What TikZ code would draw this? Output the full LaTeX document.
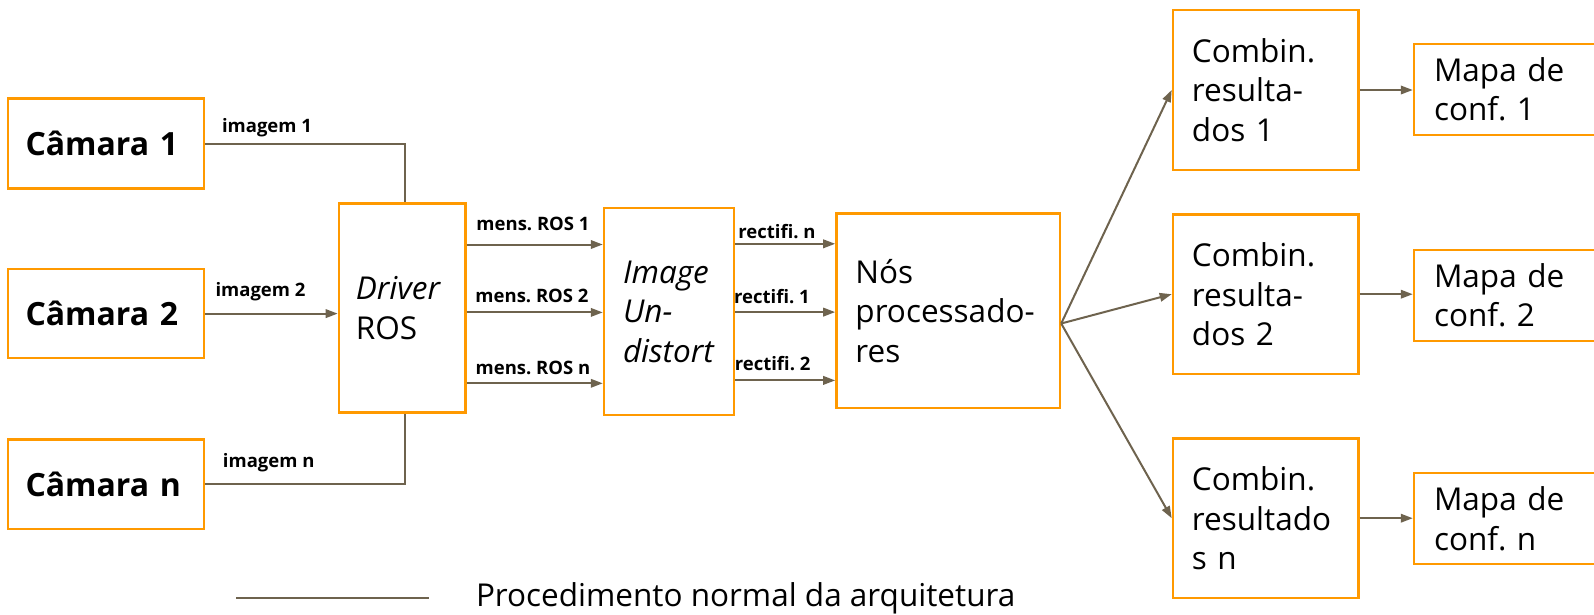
\documentclass[tikz,border=0pt]{standalone}
\usepackage{fontspec}
\setmainfont{Open Sans}
\usetikzlibrary{arrows.meta,calc}
\definecolor{boxor}{RGB}{255,153,0}
\definecolor{linec}{RGB}{110,99,78}
\frenchspacing
\tikzset{
  box/.style={draw=boxor, line width=2.5pt, inner ysep=0pt, align=left,
    font=\fontsize{31.5}{39.5}\selectfont},
  conn/.style={draw=linec, line width=2pt},
  arr/.style={conn, -{Triangle[length=12pt,width=8.5pt]}},
  lbl/.style={font=\fontsize{18.5}{22}\selectfont\bfseries, inner sep=0pt},
}
\begin{document}
\begin{tikzpicture}[x=1pt,y=-1pt]
\useasboundingbox (0,0) rectangle (1594,614);

% cameras
\node[box, inner xsep=17.5pt, text width=161pt, minimum height=90pt,
  font=\fontsize{32}{40}\selectfont\bfseries] (cam1) at (106,143.5) {Câmara 1};
\node[box, inner xsep=17.5pt, text width=161pt, minimum height=89pt,
  font=\fontsize{32}{40}\selectfont\bfseries] (cam2) at (106,313.6) {Câmara 2};
\node[box, inner xsep=17.5pt, text width=161pt, minimum height=89.5pt,
  font=\fontsize{32}{40}\selectfont\bfseries] (camn) at (106,484) {Câmara n};

% driver, undistort, processing
\node[box, inner xsep=17pt, text width=92.5pt, minimum height=209pt] (drv) at (402.2,308) {\textit{Driver}\\ROS};
\node[box, inner xsep=19pt, text width=92pt, minimum height=207pt,
  font=\fontsize{31.5}{39.5}\selectfont\itshape] (und) at (669,311.5) {Image\\Un-\\distort};
\node[box, inner xsep=19pt, text width=185.5pt, minimum height=194.4pt] (nos) at (948.2,310.8) {Nós\\processado-\\res};

% combination boxes
\node[box, inner xsep=19pt, text width=147.5pt, minimum height=160pt] (cb1) at (1265.7,90) {Combin.\\resulta-\\dos 1};
\node[box, inner xsep=19pt, text width=147.5pt, minimum height=159.5pt] (cb2) at (1265.7,294.2) {Combin.\\resulta-\\dos 2};
\node[box, inner xsep=19pt, text width=147.5pt, minimum height=159.5pt] (cbn) at (1265.7,518.2) {Combin.\\resultado\\s n};

% maps
\node[box, inner xsep=20pt, text width=142pt, minimum height=91pt] (mp1) at (1505,89.5) {Mapa de\\conf. 1};
\node[box, inner xsep=20pt, text width=142pt, minimum height=91pt] (mp2) at (1505,295.3) {Mapa de\\conf. 2};
\node[box, inner xsep=20pt, text width=142pt, minimum height=91pt] (mpn) at (1505,518.7) {Mapa de\\conf. n};

% camera -> driver
\draw[conn] (cam1.east) -| ([xshift=3pt]drv.north);
\draw[arr] (cam2.east) -- (cam2.east -| drv.west);
\draw[conn] (camn.east) -| ([xshift=2.5pt]drv.south);
\node[lbl] (li1) at (267,127.8) {imagem 1};
\node[lbl] (li2) at (260.5,291.4) {imagem 2};
\node[lbl] (lin) at (268.7,463) {imagem n};

% driver -> undistort
\draw[arr] (drv.east |- 0,244.5) -- (und.west |- 0,244.5);
\draw[arr] (drv.east |- 0,312.4) -- (und.west |- 0,312.4);
\draw[arr] (drv.east |- 0,383.3) -- (und.west |- 0,383.3);
\node[lbl] (lm1) at (533,223.8) {mens. ROS 1};
\node[lbl] (lm2) at (532,295.7) {mens. ROS 2};
\node[lbl] (lmn) at (533,368.3) {mens. ROS n};

% undistort -> processing
\draw[arr] (und.east |- 0,243.8) -- (nos.west |- 0,243.8);
\draw[arr] (und.east |- 0,312.1) -- (nos.west |- 0,312.1);
\draw[arr] (und.east |- 0,380.4) -- (nos.west |- 0,380.4);
\node[lbl] (lrn) at (777,231.9) {rectifi. n};
\node[lbl] (lr1) at (772,296.3) {rectifi. 1};
\node[lbl] (lr2) at (772.6,364) {rectifi. 2};

% processing -> combination
\coordinate (nosout) at ([yshift=-12.7pt]nos.east);
\draw[arr] (nosout) -- (cb1.west);
\draw[arr] (nosout) -- (cb2.west);
\draw[arr] (nosout) -- (cbn.west);

% combination -> maps
\draw[arr] (cb1.east) -- (cb1.east -| mp1.west);
\draw[arr] (cb2.east) -- (cb2.east -| mp2.west);
\draw[arr] (cbn.east) -- (cbn.east -| mpn.west);

% legend
\coordinate (lg1) at (236,597.8);
\coordinate (lg2) at (429,597.8);
\draw[conn] (lg1) -- (lg2);
\node[anchor=west, inner sep=0pt, font=\fontsize{31.5}{39.5}\selectfont] (lgt) at (475.8,598) {Procedimento normal da arquitetura};
\end{tikzpicture}
\end{document}
